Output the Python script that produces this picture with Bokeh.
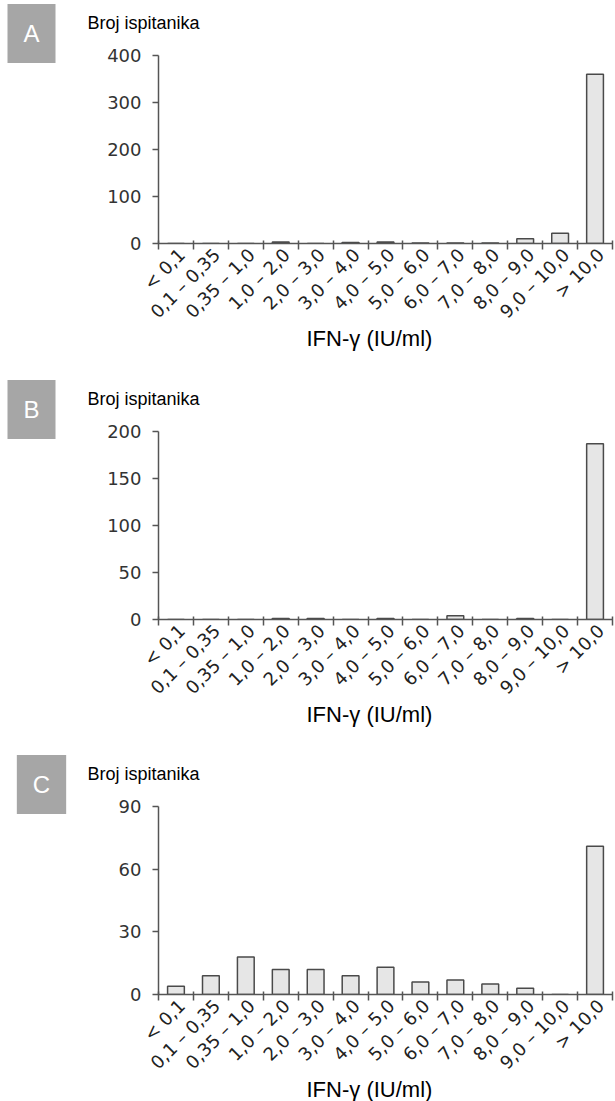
import math
from bokeh.plotting import figure
from bokeh.models import Range1d, FixedTicker, Title, Label
from bokeh.layouts import column
from bokeh.embed import file_html
from bokeh.resources import INLINE

# ---------------- data ----------------
categories = ["< 0,1", "0,1 – 0,35", "0,35 – 1,0", "1,0 – 2,0", "2,0 – 3,0",
              "3,0 – 4,0", "4,0 – 5,0", "5,0 – 6,0", "6,0 – 7,0", "7,0 – 8,0",
              "8,0 – 9,0", "9,0 – 10,0", "> 10,0"]
counts_a = [0, 0, 0, 3, 0, 2, 3, 1, 1, 1, 10, 22, 360]
counts_b = [0, 0, 0, 1, 1, 0, 1, 0, 4, 0, 1, 0, 187]
counts_c = [4, 9, 18, 12, 12, 9, 13, 6, 7, 5, 3, 0, 71]
panel_letters = ["A", "B", "C"]
y_ticks_a = [0, 100, 200, 300, 400]
y_ticks_b = [0, 50, 100, 150, 200]
y_ticks_c = [0, 30, 60, 90]
y_title = "Broj ispitanika"
x_title = "IFN-γ (IU/ml)"

AXIS_COLOR = "#555555"
TICK_FONT = "DejaVu Sans"
TEXT_FONT = "Liberation Sans"
FRAME_H = 188
SUB = 6  # sub-units per category on the x scale


def make_panel(letter, counts, yticks, height, top):
    n = len(categories)
    centers = [SUB * i + SUB / 2 for i in range(n)]
    bottom = height - top - FRAME_H
    p = figure(width=615, height=height, output_backend="svg", toolbar_location=None,
               x_range=Range1d(0, SUB * n), y_range=Range1d(0, yticks[-1]),
               min_border_left=158, min_border_right=3,
               min_border_top=top, min_border_bottom=bottom)
    p.outline_line_color = None
    p.grid.visible = False
    p.background_fill_color = "white"
    p.border_fill_color = "white"

    p.vbar(x=centers, top=counts, bottom=0, width=0.48 * SUB, fill_color="#e6e6e6",
           line_color="#4a4a4a", line_width=1.5)

    xa = p.xaxis[0]
    label_pos = [SUB * i + SUB - 2 for i in range(n)]
    xa.ticker = FixedTicker(ticks=label_pos, minor_ticks=[SUB * i for i in range(n + 1)])
    xa.major_label_overrides = {pos: c for pos, c in zip(label_pos, categories)}
    xa.major_tick_out = 0
    xa.major_tick_in = 0
    xa.minor_tick_out = 6
    xa.minor_tick_in = 3
    xa.minor_tick_line_color = AXIS_COLOR
    xa.minor_tick_line_width = 1.5
    xa.axis_line_color = AXIS_COLOR
    xa.axis_line_width = 1.5
    xa.major_label_orientation = math.pi / 4
    xa.major_label_standoff = 2
    xa.major_label_text_font = TICK_FONT
    xa.major_label_text_font_size = "18px"
    xa.major_label_text_color = "#222222"

    ya = p.yaxis[0]
    ya.ticker = FixedTicker(ticks=yticks)
    ya.major_tick_out = 6
    ya.major_tick_in = 0
    ya.minor_tick_out = 0
    ya.minor_tick_in = 0
    ya.major_tick_line_color = AXIS_COLOR
    ya.major_tick_line_width = 1.5
    ya.axis_line_color = AXIS_COLOR
    ya.axis_line_width = 1.5
    ya.major_label_standoff = 11
    ya.major_label_text_font = TICK_FONT
    ya.major_label_text_font_size = "18px"
    ya.major_label_text_color = "#333333"

    p.add_layout(Label(x=-71, y=33, x_units="screen", y_units="screen", text=y_title,
                       text_align="left", text_baseline="middle",
                       text_color="black", text_font=TEXT_FONT, text_font_size="18px"), "above")
    p.add_layout(Title(text=x_title, align="left", offset=148, standoff=-18,
                       text_font=TEXT_FONT, text_font_size="22px",
                       text_font_style="normal", text_color="black"), "below")
    p.add_layout(Label(x=-25, y=210, x_units="screen", y_units="screen", text=letter,
                       text_align="center", text_baseline="middle",
                       text_color="white", text_font=TEXT_FONT, text_font_size="24px",
                       background_fill_color="#a6a6a6", padding=16), "left")
    return p


specs = [
    (panel_letters[0], counts_a, y_ticks_a, 375, 55),
    (panel_letters[1], counts_b, y_ticks_b, 375, 56),
    (panel_letters[2], counts_c, y_ticks_c, 351, 56),
]
panels = [make_panel(*s) for s in specs]

layout = column(*panels, spacing=0)
open("out.html", "w").write(file_html(layout, INLINE))
